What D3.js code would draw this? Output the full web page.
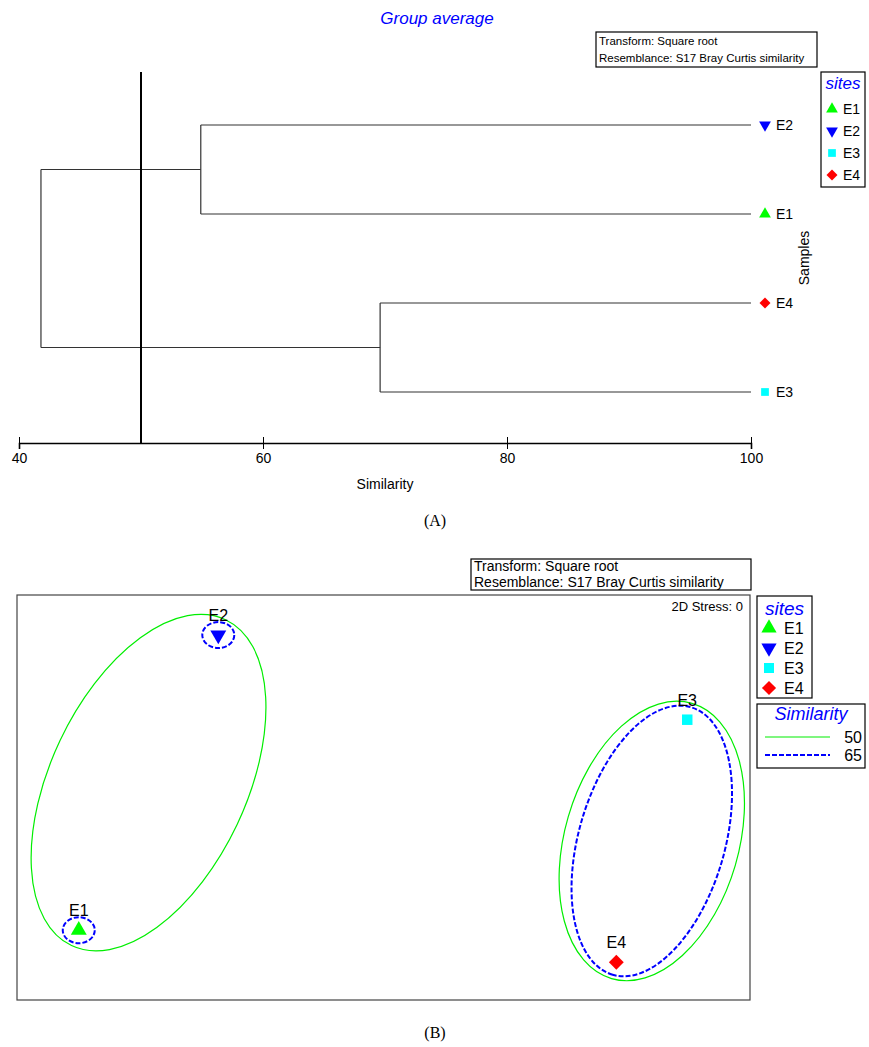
<!DOCTYPE html>
<html>
<head>
<meta charset="utf-8">
<script src="https://cdn.jsdelivr.net/npm/d3@7/dist/d3.min.js"></script>
<style>
    body { margin: 0; background: #fff; }
    text { font-family: 'Liberation Sans', Arial, sans-serif; }
</style>
</head>
<body>
<div id="chart"></div>
<script>
/*global d3: false*/

// Sites
var sites = ['E1', 'E2', 'E3', 'E4'];
var siteColors = ['#00ff00', '#0000ff', '#00ffff', '#ff0000'];
var siteShapes = ['triangle', 'triangleDown', 'square', 'diamond'];

// Dendrogram (group average)
var leafOrder = ['E2', 'E1', 'E4', 'E3'];
var mergeIds = ['m0', 'm1', 'm2'];
var mergeLeft = ['E2', 'E4', 'm0'];
var mergeRight = ['E1', 'E3', 'm1'];
var mergeSimilarity = [54.9, 69.6, 41.8];
var simTicks = [40, 60, 80, 100];
var sliceLevel = 50;

// MDS ordination
var mdsX = [-1.33, -0.72, 1.33, 1.02];
var mdsY = [-0.58, 0.71, 0.34, -0.72];
var stressLabel = '2D Stress: 0';
var overlayLevels = [50, 65];
var overlayGroups = [
    [['E1', 'E2'], ['E3', 'E4']],
    [['E1'], ['E2'], ['E3', 'E4']]
];

var infoLines = ['Transform: Square root', 'Resemblance: S17 Bray Curtis similarity'];

(function() {
    'use strict';
    var svg, x, y, nodes, i, g, leg, mx, my, pts, overlayStyle, widthFor;

    svg = d3.select('#chart').append('svg')
        .attr('width', 869)
        .attr('height', 1047);

    function symbolPath(shape, size) {
        var r;
        if (shape === 'square') {
            r = Math.sqrt(size) / 2;
            return 'M' + (-r) + ',' + (-r) + 'H' + r + 'V' + r + 'H' + (-r) + 'Z';
        }
        if (shape === 'diamond') {
            r = Math.sqrt(size) / Math.SQRT2;
            return 'M0,' + (-r) + 'L' + r + ',0L0,' + r + 'L' + (-r) + ',0Z';
        }
        return d3.symbol().type(d3.symbolTriangle).size(size)();
    }

    function marker(sel, idx, cx, cy, size) {
        var shape = siteShapes[idx];
        sel.append('path')
            .attr('d', symbolPath(shape, size))
            .attr('transform', 'translate(' + cx + ',' + cy + ')' + (shape === 'triangleDown' ? ' rotate(180)' : ''))
            .attr('fill', siteColors[idx]);
    }

    function infoBox(x0, y0, w, h, fs, firstBase, lineGap) {
        svg.append('rect')
            .attr('x', x0).attr('y', y0)
            .attr('width', w).attr('height', h)
            .attr('fill', 'none')
            .attr('stroke', 'black')
            .attr('stroke-width', 1.2);
        infoLines.forEach(function(t, k) {
            svg.append('text')
                .attr('x', x0 + 3)
                .attr('y', firstBase + k * lineGap)
                .attr('font-size', fs)
                .attr('fill', 'black')
                .text(t);
        });
    }

    function sitesLegend(x0, y0, w, h, titleSize, rowY, rowGap, fs, mSize, mx0, tx0) {
        svg.append('rect')
            .attr('x', x0).attr('y', y0)
            .attr('width', w).attr('height', h)
            .attr('fill', 'white')
            .attr('stroke', 'black')
            .attr('stroke-width', 1.2);
        svg.append('text')
            .attr('x', x0 + w / 2)
            .attr('y', y0 + titleSize)
            .attr('text-anchor', 'middle')
            .attr('font-size', titleSize)
            .attr('font-style', 'italic')
            .attr('fill', '#0000ff')
            .text('sites');
        sites.forEach(function(s, k) {
            marker(svg, k, mx0, rowY + k * rowGap, mSize);
            svg.append('text')
                .attr('x', tx0)
                .attr('y', rowY + k * rowGap + fs * 0.36)
                .attr('font-size', fs)
                .attr('fill', 'black')
                .text(s);
        });
    }

    // ---------- (A) Dendrogram ----------
    x = d3.scaleLinear().domain([40, 100]).range([19, 751]);
    y = d3.scalePoint().domain(leafOrder).range([125, 392]);

    nodes = {};
    leafOrder.forEach(function(l) {
        nodes[l] = {x: x(100), y: y(l)};
    });
    for (i = 0; i < mergeIds.length; i++) {
        nodes[mergeIds[i]] = {
            x: x(mergeSimilarity[i]),
            y: (nodes[mergeLeft[i]].y + nodes[mergeRight[i]].y) / 2
        };
    }

    g = svg.append('g');
    for (i = 0; i < mergeIds.length; i++) {
        [mergeLeft[i], mergeRight[i]].forEach(function(c) {
            g.append('line')
                .attr('x1', nodes[mergeIds[i]].x)
                .attr('y1', nodes[c].y)
                .attr('x2', nodes[c].x)
                .attr('y2', nodes[c].y)
                .attr('stroke', '#333')
                .attr('stroke-width', 1.2);
        });
        g.append('line')
            .attr('x1', nodes[mergeIds[i]].x)
            .attr('y1', nodes[mergeLeft[i]].y)
            .attr('x2', nodes[mergeIds[i]].x)
            .attr('y2', nodes[mergeRight[i]].y)
            .attr('stroke', '#333')
            .attr('stroke-width', 1.2);
    }

    // slice line
    svg.append('line')
        .attr('x1', x(sliceLevel)).attr('y1', 72)
        .attr('x2', x(sliceLevel)).attr('y2', 443)
        .attr('stroke', 'black')
        .attr('stroke-width', 2);

    // leaf markers + labels
    leafOrder.forEach(function(l) {
        var idx = sites.indexOf(l);
        marker(svg, idx, x(100) + 14, y(l), 60);
        svg.append('text')
            .attr('x', x(100) + 25)
            .attr('y', y(l) + 5)
            .attr('font-size', 14)
            .attr('fill', 'black')
            .text(l);
    });

    // axis
    g = svg.append('g')
        .attr('transform', 'translate(0,443)')
        .call(d3.axisBottom(x).tickValues(simTicks).tickSize(6).tickFormat(d3.format('d')));
    g.select('.domain').attr('stroke-width', 1.6);
    g.selectAll('.tick line').attr('y1', -6).attr('y2', 6);
    g.selectAll('.tick text')
        .attr('y', 20)
        .attr('dy', 0)
        .attr('font-size', 14)
        .attr('font-family', "'Liberation Sans', Arial, sans-serif");

    svg.append('text')
        .attr('x', 385).attr('y', 489)
        .attr('text-anchor', 'middle')
        .attr('font-size', 14)
        .text('Similarity');

    svg.append('text')
        .attr('transform', 'translate(809,258) rotate(-90)')
        .attr('text-anchor', 'middle')
        .attr('font-size', 14)
        .text('Samples');

    svg.append('text')
        .attr('x', 437).attr('y', 24)
        .attr('text-anchor', 'middle')
        .attr('font-size', 17)
        .attr('font-style', 'italic')
        .attr('fill', '#0000ff')
        .text('Group average');

    infoBox(596, 32, 221, 35, 11.5, 45, 16.5);
    sitesLegend(821, 72, 44, 115, 17, 109, 22, 14, 60, 832, 843);

    svg.append('text')
        .attr('x', 435).attr('y', 526)
        .attr('text-anchor', 'middle')
        .attr('font-size', 16)
        .style('font-family', "'Liberation Serif', 'DejaVu Serif', serif")
        .text('(A)');

    // ---------- (B) MDS ----------
    mx = d3.scaleLinear().domain([-1.6, 1.6]).range([17, 749]);
    my = d3.scaleLinear().domain([-0.885, 0.885]).range([1000, 595]);

    svg.append('rect')
        .attr('x', 17).attr('y', 595)
        .attr('width', 733).attr('height', 405)
        .attr('fill', 'none')
        .attr('stroke', '#444')
        .attr('stroke-width', 1.2);

    svg.append('text')
        .attr('x', 743).attr('y', 611)
        .attr('text-anchor', 'end')
        .attr('font-size', 13)
        .text(stressLabel);

    pts = {};
    sites.forEach(function(s, k) {
        pts[s] = {x: mx(mdsX[k]), y: my(mdsY[k])};
    });

    overlayStyle = {
        50: {stroke: '#00ee00', width: 1.2, dash: null, pad: 17, single: [16, 13]},
        65: {stroke: '#0000ff', width: 2, dash: '5,2', pad: 13, single: [16, 13]}
    };
    // half-widths of the paired-sample ellipses
    widthFor = {50: [98, 87], 65: [0, 0, 73]};

    overlayLevels.forEach(function(level, li) {
        var st = overlayStyle[level];
        overlayGroups[li].forEach(function(grp, gi) {
            var p1, p2, cx, cy, ang, a, b;
            p1 = pts[grp[0]];
            if (grp.length === 1) {
                cx = p1.x; cy = p1.y; ang = 0;
                a = st.single[0]; b = st.single[1];
            } else {
                p2 = pts[grp[1]];
                cx = (p1.x + p2.x) / 2;
                cy = (p1.y + p2.y) / 2;
                ang = Math.atan2(p2.y - p1.y, p2.x - p1.x) * 180 / Math.PI;
                a = Math.sqrt(Math.pow(p2.x - p1.x, 2) + Math.pow(p2.y - p1.y, 2)) / 2 + st.pad;
                b = widthFor[level][gi];
            }
            svg.append('ellipse')
                .attr('cx', 0).attr('cy', 0)
                .attr('rx', a).attr('ry', b)
                .attr('transform', 'translate(' + cx + ',' + cy + ') rotate(' + ang + ')')
                .attr('fill', 'none')
                .attr('stroke', st.stroke)
                .attr('stroke-width', st.width)
                .attr('stroke-dasharray', st.dash);
        });
    });

    sites.forEach(function(s, k) {
        marker(svg, k, pts[s].x, pts[s].y, 110);
        svg.append('text')
            .attr('x', pts[s].x)
            .attr('y', pts[s].y - 14)
            .attr('text-anchor', 'middle')
            .attr('font-size', 16)
            .text(s);
    });

    infoBox(471, 559, 280, 31, 14, 571, 15.5);
    sitesLegend(757, 596, 55, 102, 19, 628, 20, 16, 100, 769, 784);

    // similarity legend
    leg = svg.append('g');
    leg.append('rect')
        .attr('x', 757).attr('y', 704)
        .attr('width', 108).attr('height', 64)
        .attr('fill', 'white')
        .attr('stroke', 'black')
        .attr('stroke-width', 1.2);
    leg.append('text')
        .attr('x', 811).attr('y', 720)
        .attr('text-anchor', 'middle')
        .attr('font-size', 18)
        .attr('font-style', 'italic')
        .attr('fill', '#0000ff')
        .text('Similarity');
    overlayLevels.forEach(function(level, k) {
        var st = overlayStyle[level];
        leg.append('line')
            .attr('x1', 765).attr('y1', 737 + k * 18)
            .attr('x2', 830).attr('y2', 737 + k * 18)
            .attr('stroke', st.stroke)
            .attr('stroke-width', st.width)
            .attr('stroke-dasharray', st.dash);
        leg.append('text')
            .attr('x', 862).attr('y', 743 + k * 18)
            .attr('text-anchor', 'end')
            .attr('font-size', 16)
            .text(level);
    });

    svg.append('text')
        .attr('x', 435).attr('y', 1038)
        .attr('text-anchor', 'middle')
        .attr('font-size', 16)
        .style('font-family', "'Liberation Serif', 'DejaVu Serif', serif")
        .text('(B)');
}());
</script>
</body>
</html>
